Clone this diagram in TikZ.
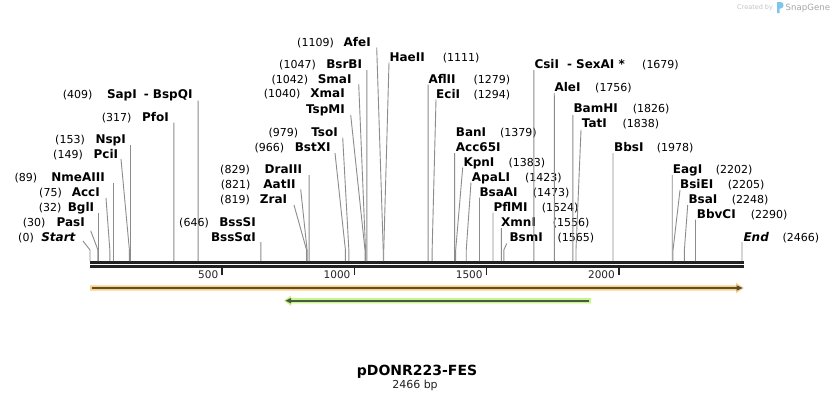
\documentclass[tikz,border=0pt]{standalone}
\usepackage{fontspec}
\setmainfont{DejaVu Sans}[ItalicFont={DejaVu Sans Oblique},BoldFont={DejaVu Sans Bold},BoldItalicFont={DejaVu Sans Bold Oblique}]
\definecolor{linegray}{HTML}{8C8C8C}
\definecolor{rulerdark}{HTML}{222222}
\definecolor{orangelight}{HTML}{FDD07E}
\definecolor{orangedark}{HTML}{594D3A}
\definecolor{greenlight}{HTML}{C6F58C}
\definecolor{greendark}{HTML}{4B5A3C}
\definecolor{wmlight}{HTML}{C4C4C4}
\definecolor{wmdark}{HTML}{A6A6A6}
\definecolor{snapblue}{HTML}{7CC6EC}
\tikzset{
  enzname/.style={font=\fontsize{12}{14}\selectfont\bfseries, inner sep=0pt, text=black},
  enznum/.style={font=\fontsize{11}{13}\selectfont, inner sep=0pt, text=black},
  conn/.style={draw=linegray, line width=0.9pt},
  rulerline/.style={draw=rulerdark, line width=2.7pt},
  tickmark/.style={draw=rulerdark, line width=1.7pt},
  ticklabel/.style={font=\fontsize{10.5}{12}\selectfont, inner sep=0pt, text=rulerdark, anchor=base east},
}
% left-side label: id, y, name right x, name, number right x, number, start x, start y, bp
\newcommand\enzL[9]{%
  \node[enzname,anchor=base east] (#1) at (#3,#2+4.3) {#4};
  \node[enznum,anchor=base east] (#1n) at (#5,#2+4.3) {#6};
  \coordinate (#1s) at (#7,#8);
  \coordinate (#1k) at ({90+0.2644*#9},250);
  \coordinate (#1r) at ({90+0.2644*#9},261);
  \draw[conn] (#1s) -- (#1k) -- (#1r);}
% right-side label: id, y, name left x, name, number left x, number, start x, start y, bp
\newcommand\enzR[9]{%
  \node[enzname,anchor=base west] (#1) at (#3,#2+4.3) {#4};
  \node[enznum,anchor=base west] (#1n) at (#5,#2+4.3) {#6};
  \coordinate (#1s) at (#7,#8);
  \coordinate (#1k) at ({90+0.2644*#9},250);
  \coordinate (#1r) at ({90+0.2644*#9},261);
  \draw[conn] (#1s) -- (#1k) -- (#1r);}
\begin{document}
\begin{tikzpicture}[x=1pt,y=-1pt]
\useasboundingbox (0,0) rectangle (834,400);
\fill[white] (0,0) rectangle (834,400);

% watermark
\node[font=\fontsize{6.5}{8}\selectfont, text=wmlight, inner sep=0pt, anchor=base west] (wm1) at (737,9.8) {Created by};
\fill[snapblue] (777,2) -- (780.5,2) .. controls (784.5,2) and (784.5,8.5) .. (780.5,8.5) -- (779.6,8.5) -- (779.6,13) -- (777,13) -- cycle;
\node[font=\fontsize{8.6}{10}\selectfont, text=wmdark, inner sep=0pt, anchor=base west] (wm2) at (785.5,10.6) {SnapGene};

% ruler
\coordinate (r0) at (90,262.3);
\coordinate (r1) at (743.7,262.3);
\coordinate (q0) at (90,266.3);
\coordinate (q1) at (743.7,266.3);
\draw[rulerline] (r0) -- (r1);
\draw[rulerline] (q0) -- (q1);
\foreach \t in {500,1000,1500,2000}{
  \coordinate (t\t a) at ({90+0.2644*\t},268);
  \coordinate (t\t b) at ({90+0.2644*\t},274.5);
  \draw[tickmark] (t\t a) -- (t\t b);
  \node[ticklabel] (tl\t) at ({90+0.2644*\t-3.8},278) {\t};
}

% features
\fill[orangelight] (90,285.3) -- (736,285.3) -- (736,282.7) -- (743.7,288) -- (736,293.3) -- (736,290.7) -- (90,290.7) -- cycle;
\draw[orangedark, line width=1.7pt] (92,288) -- (738,288);
\fill[orangedark] (736.5,285.2) -- (742.6,288) -- (736.5,290.8) -- cycle;
\fill[greenlight] (284,300.7) -- (291,295.4) -- (291,298) -- (591,298) -- (591,303.4) -- (291,303.4) -- (291,306) -- cycle;
\draw[greendark, line width=1.7pt] (289,300.7) -- (589,300.7);
\fill[greendark] (285.4,300.7) -- (291.2,297.9) -- (291.2,303.5) -- cycle;

% left labels
\enzL{start}{236.7}{76}{\textit{Start}}{34}{(0)}{83}{241}{0}
\enzL{pasi}{221.7}{85}{PasI}{45.7}{(30)}{90.7}{230.7}{30}
\enzL{bgli}{206.7}{94.3}{BglI}{61.7}{(32)}{98.46}{213}{32}
\enzL{acci}{191.7}{100}{AccI}{62}{(75)}{106}{198}{75}
\enzL{nme}{176.7}{105}{NmeAIII}{37.3}{(89)}{113.53}{183}{89}
\enzL{pci}{154}{118.3}{PciI}{83}{(149)}{121}{159}{149}
\enzL{nsp}{139}{126}{NspI}{85}{(153)}{130.45}{145}{153}
\enzL{pfo}{117.3}{169}{PfoI}{131.7}{(317)}{173.81}{122.7}{317}
\enzL{sap}{94}{192.7}{SapI\hspace{7pt}- BspQI}{92.7}{(409)}{198.14}{100.7}{409}
\node[enzname,anchor=base east] (bsssi) at (256,221.7+4.3) {BssSI};
\node[enznum,anchor=base east] (bsssin) at (209,221.7+4.3) {(646)};
\enzL{bsssa}{236.7}{256}{BssSαI}{209}{}{260.8}{242}{646}
\enzL{zra}{199}{287.3}{ZraI}{250}{(819)}{294}{205}{819}
\enzL{aat}{184}{295.7}{AatII}{250.7}{(821)}{300.7}{189.3}{821}
\enzL{dra}{169.3}{302.3}{DraIII}{250}{(829)}{309.19}{175}{829}
\enzL{bstx}{147.3}{330.7}{BstXI}{284.3}{(966)}{335}{153}{966}
\enzL{tso}{131.7}{338}{TsoI}{298.3}{(979)}{342.7}{137.7}{979}
\node[enzname,anchor=base east] (xma) at (345,93.3+4.3) {XmaI};
\node[enznum,anchor=base east] (xman) at (300.7,93.3+4.3) {(1040)};
\enzL{tspm}{109}{345}{TspMI}{300.7}{}{350.7}{115}{1040}
\enzL{sma}{79}{351.7}{SmaI}{308.3}{(1042)}{358.7}{84}{1042}
\enzL{bsrb}{64}{362.3}{BsrBI}{316}{(1047)}{366.83}{70}{1047}
\enzL{afe}{41.7}{371}{AfeI}{334}{(1109)}{376.7}{47.5}{1109}

% right labels
\enzR{hae}{56.7}{389.3}{HaeII}{442.7}{(1111)}{389}{62.5}{1111}
\enzR{afl}{79}{428.3}{AflII}{473.3}{(1279)}{428.17}{84.5}{1279}
\enzR{eci}{94}{436}{EciI}{473.3}{(1294)}{436}{99.5}{1294}
\node[enzname,anchor=base west] (ban) at (455.7,131.7+4.3) {BanI};
\node[enznum,anchor=base west] (bann) at (500,131.7+4.3) {(1379)};
\enzR{acc65}{146.7}{455.7}{Acc65I}{500}{}{454.61}{153}{1379}
\enzR{kpn}{162}{463.3}{KpnI}{508.3}{(1383)}{462.7}{167.5}{1383}
\enzR{apa}{177}{471.7}{ApaLI}{525}{(1423)}{471}{182.5}{1423}
\enzR{bsaa}{192}{479.3}{BsaAI}{532.7}{(1473)}{479.46}{197.5}{1473}
\enzR{pflm}{207}{493.3}{PflMI}{541.7}{(1524)}{492.95}{212.5}{1524}
\enzR{xmn}{222}{501}{XmnI}{552.7}{(1556)}{501.4}{228}{1556}
\enzR{bsm}{237}{509.3}{BsmI}{557.3}{(1565)}{506.7}{243.5}{1565}
\enzR{csi}{64}{534.3}{CsiI\hspace{8pt}- SexAI *}{642}{(1679)}{533.93}{70}{1679}
\enzR{ale}{87.3}{554.3}{AleI}{595}{(1756)}{554.29}{93}{1756}
\enzR{bam}{108.3}{573.3}{BamHI}{632.7}{(1826)}{572.79}{115}{1826}
\enzR{tat}{123.3}{581.7}{TatI}{622.3}{(1838)}{581}{130}{1838}
\enzR{bbs}{146.7}{614}{BbsI}{656.7}{(1978)}{612.98}{153}{1978}
\enzR{eag}{169.3}{672.7}{EagI}{715.7}{(2202)}{672.21}{175}{2202}
\enzR{bsie}{184}{680}{BsiEI}{727.7}{(2205)}{680}{190}{2205}
\enzR{bsa}{199.3}{688.3}{BsaI}{731.7}{(2248)}{687.7}{205}{2248}
\enzR{bbvc}{214}{696.7}{BbvCI}{750.7}{(2290)}{695.48}{219.5}{2290}
\enzR{endl}{236.7}{743.3}{\textit{End}}{782.3}{(2466)}{742.01}{242}{2466}

% title
\node[font=\fontsize{14}{16}\selectfont\bfseries, inner sep=0pt, anchor=base] (title) at (417,375) {pDONR223-FES};
\node[font=\fontsize{11}{13}\selectfont, inner sep=0pt, anchor=base, text=rulerdark] (size) at (415,388) {2466 bp};
\end{tikzpicture}
\end{document}
